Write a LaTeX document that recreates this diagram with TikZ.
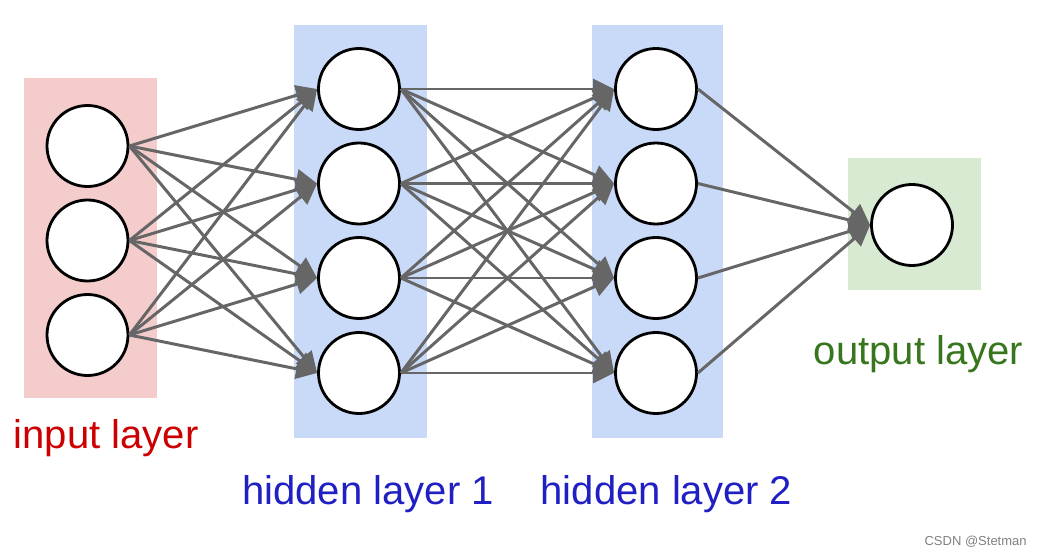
\documentclass[tikz,border=0pt]{standalone}
\usepackage{fontspec}
\setmainfont{Liberation Sans}
\usetikzlibrary{positioning, arrows.meta}

\definecolor{inpink}{HTML}{F4CCCC}
\definecolor{hidblue}{HTML}{C9DAF8}
\definecolor{outgreen}{HTML}{D9EAD3}
\definecolor{wiregray}{HTML}{666666}
\definecolor{intext}{HTML}{CC0000}
\definecolor{hidtext}{HTML}{1F1FC4}
\definecolor{outtext}{HTML}{38761D}

\begin{document}
\begin{tikzpicture}[
		>={Triangle[length=0.42cm, width=0.4cm]},
		neuron/.style={circle, draw=black, line width=1.6pt, fill=white, minimum size=1.62cm, inner sep=0pt},
		wire/.style={->, draw=wiregray, fill=wiregray, line width=1.7pt},
		layertext/.style={anchor=base, font=\fontsize{22.8}{27}\selectfont, inner sep=0pt}
		]
		
		\useasboundingbox (0,0) rectangle (20.84,11.1);
		
		% --- Layer backgrounds ---
		\fill[inpink] (0.48,3.14) rectangle (3.14,9.54);
		\fill[hidblue] (5.88,2.34) rectangle (8.54,10.6);
		\fill[hidblue] (11.84,2.34) rectangle (14.46,10.6);
		\fill[outgreen] (16.96,5.3) rectangle (19.62,7.94);
		
		% --- Input layer ---
		\node[neuron] (in1) at (1.75, 8.18) {};
		\node[neuron] (in2) at (1.75, 6.29) {};
		\node[neuron] (in3) at (1.75, 4.40) {};
		
		% --- Hidden layer 1 ---
		\node[neuron] (ha1) at (7.18, 9.32) {};
		\node[neuron] (ha2) at (7.18, 7.43) {};
		\node[neuron] (ha3) at (7.18, 5.54) {};
		\node[neuron] (ha4) at (7.18, 3.64) {};
		
		% --- Hidden layer 2 ---
		\node[neuron] (hb1) at (13.12, 9.32) {};
		\node[neuron] (hb2) at (13.12, 7.43) {};
		\node[neuron] (hb3) at (13.12, 5.54) {};
		\node[neuron] (hb4) at (13.12, 3.64) {};
		
		% --- Output layer ---
		\node[neuron] (out) at (18.24, 6.6) {};
		
		% Connections between the layers
		\foreach \i in {1,2,3} \foreach \j in {1,2,3,4}
			\draw[wire] (in\i.east) -- (ha\j.west);
		\foreach \i in {1,2,3,4} \foreach \j in {1,2,3,4}
			\draw[wire] (ha\i.east) -- (hb\j.west);
		\foreach \i in {1,2,3,4}
			\draw[wire] (hb\i.east) -- (out.west);
		
		% Layer names
		\node[layertext, text=intext] (lbl-in) at (2.12, 2.14) {input layer};
		\node[layertext, text=hidtext] (lbl-ha) at (7.36, 1.02) {hidden layer 1};
		\node[layertext, text=hidtext] (lbl-hb) at (13.33, 1.02) {hidden layer 2};
		\node[layertext, text=outtext] (lbl-out) at (18.37, 3.82) {output layer};
		
		\node[anchor=base east, font=\fontsize{7.4}{9}\selectfont, text=gray, inner sep=0pt] (mark) at (20.54, 0.2) {CSDN @Stetman};
		
	\end{tikzpicture}
\end{document}
